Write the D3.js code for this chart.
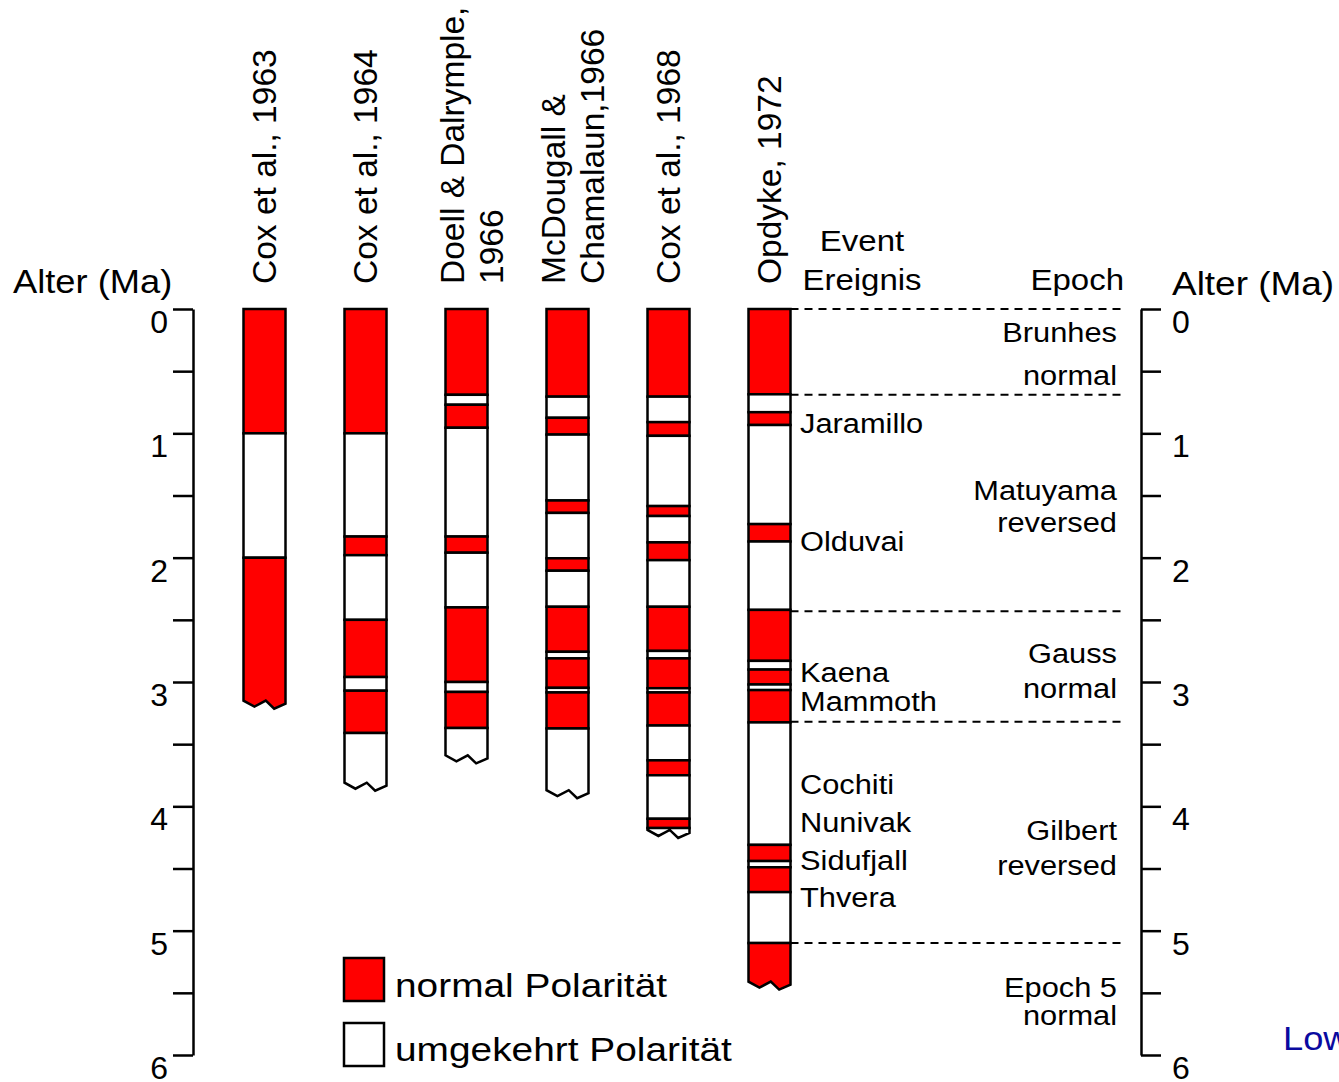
<!DOCTYPE html>
<html>
<head>
<meta charset="utf-8">
<script src="https://cdn.jsdelivr.net/npm/d3@7"></script>
<style>
  html, body { margin: 0; padding: 0; background: #fff; }
  svg { display: block; }
  text { font-family: "Liberation Sans", Arial, Helvetica, sans-serif; }
</style>
</head>
<body>
<svg id="chart" width="1339" height="1082"></svg>
<script>
// Polarity columns: boundaries in Ma, top to bottom.
// Segments alternate normal / reversed, starting with normal at 0 Ma.
const studyLabels = [
  ["Cox et al., 1963"],
  ["Cox et al., 1964"],
  ["Doell & Dalrymple,", "1966"],
  ["McDougall &", "Chamalaun,1966"],
  ["Cox et al., 1968"],
  ["Opdyke, 1972"]
];
const cox1963 = [0, 1.0, 2.0, 3.15];
const cox1964 = [0, 1.0, 1.83, 1.98, 2.50, 2.96, 3.07, 3.41, 3.81];
const doell1966 = [0, 0.69, 0.77, 0.955, 1.83, 1.96, 2.40, 3.00, 3.08, 3.37, 3.59];
const mcdougall1966 = [0, 0.705, 0.875, 1.01, 1.54, 1.64, 2.005, 2.105, 2.395, 2.757, 2.81, 3.047, 3.084, 3.373, 3.87];
const cox1968 = [0, 0.705, 0.91, 1.02, 1.585, 1.665, 1.877, 2.02, 2.395, 2.75, 2.81, 3.05, 3.084, 3.35, 3.63, 3.75, 4.10, 4.175, 4.19];
const opdyke1972 = [0, 0.686, 0.83, 0.933, 1.73, 1.87, 2.42, 2.83, 2.90, 3.02, 3.065, 3.325, 4.31, 4.44, 4.49, 4.69, 5.10, 5.41];
const columns = [cox1963, cox1964, doell1966, mcdougall1966, cox1968, opdyke1972];

// Named subchrons (events) and polarity epochs
const eventNames = ["Jaramillo", "Olduvai", "Kaena", "Mammoth", "Cochiti", "Nunivak", "Sidufjall", "Thvera"];
const epochNames = [["Brunhes", "normal"], ["Matuyama", "reversed"], ["Gauss", "normal"], ["Gilbert", "reversed"], ["Epoch 5", "normal"]];
const epochBounds = [0, 0.69, 2.43, 3.32, 5.1];

const ageTicks = [0, 1, 2, 3, 4, 5, 6];
const legendLabels = ["normal Polarität", "umgekehrt Polarität"];

const RED = "#ff0000";
const svg = d3.select("#chart");
svg.append("rect").attr("width", 1339).attr("height", 1082).attr("fill", "#fff");

const y = d3.scaleLinear().domain([0, 6]).range([309, 1055]);
const x = d3.scalePoint().domain(d3.range(columns.length)).range([264.5, 769.5]);
const colW = 42;

function htext(g, px, py, str, size, anchor, xs) {
  return g.append("text")
    .attr("transform", `translate(${px},${py}) scale(${xs || 1.1},1)`)
    .attr("font-size", size)
    .attr("text-anchor", anchor || "start")
    .style("fill", "#000")
    .text(str);
}

// ---- age axes ----
const minorTicks = d3.range(0, 6.01, 0.5);
function styleAxis(g) {
  g.selectAll("path.domain").attr("stroke", "#000").attr("stroke-width", 2.5);
  g.selectAll(".tick line").attr("stroke", "#000").attr("stroke-width", 2.5);
  g.selectAll(".tick text")
    .attr("font-size", 32)
    .attr("font-family", '"Liberation Sans", Arial, sans-serif')
    .attr("fill", "#000")
    .attr("dy", "0.73em");
}
const fmt = d => Number.isInteger(d) && ageTicks.includes(d) ? String(d) : "";

const leftAxis = svg.append("g").attr("transform", "translate(193,0)")
  .call(d3.axisLeft(y).tickValues(minorTicks).tickFormat(fmt).tickSize(20).tickSizeOuter(0).tickPadding(5));
styleAxis(leftAxis);

const rightAxis = svg.append("g").attr("transform", "translate(1141,0)")
  .call(d3.axisRight(y).tickValues(minorTicks).tickFormat(fmt).tickSize(20).tickSizeOuter(0).tickPadding(11));
styleAxis(rightAxis);

htext(svg, 13, 293, "Alter (Ma)", 33);
htext(svg, 1172, 295, "Alter (Ma)", 33, "start", 1.12);

// ---- epoch boundaries (dashed) ----
const colRight = x(columns.length - 1) + colW / 2;
svg.append("g").selectAll("line").data(epochBounds).join("line")
  .attr("x1", colRight).attr("x2", 1122)
  .attr("y1", d => y(d)).attr("y2", d => y(d))
  .attr("stroke", "#000").attr("stroke-width", 2)
  .attr("stroke-dasharray", "8,6");

// ---- polarity columns ----
columns.forEach((bounds, ci) => {
  const g = svg.append("g");
  const x0 = x(ci) - colW / 2, x1 = x(ci) + colW / 2;
  for (let i = 0; i < bounds.length - 1; i++) {
    const fill = i % 2 === 0 ? RED : "#fff";
    const top = y(bounds[i]), bot = y(bounds[i + 1]);
    if (i === bounds.length - 2) {
      // last segment ends in a broken (zig-zag) edge
      const pts = [
        [x0, top], [x1, top], [x1, bot + 3],
        [x0 + 0.73 * colW, bot + 8], [x0 + 0.53 * colW, bot],
        [x0 + 0.26 * colW, bot + 6], [x0, bot]
      ];
      g.append("path")
        .attr("d", d3.line()(pts) + "Z")
        .attr("fill", fill).attr("stroke", "#000").attr("stroke-width", 2.5)
        .attr("stroke-linejoin", "miter");
    } else {
      g.append("rect")
        .attr("x", x0).attr("y", top)
        .attr("width", colW).attr("height", bot - top)
        .attr("fill", fill).attr("stroke", "#000").attr("stroke-width", 2.5);
    }
  }
});

// ---- column headings (rotated) ----
studyLabels.forEach((lines, ci) => {
  const offs = lines.length === 1 ? [11] : [-3, 36];
  lines.forEach((ln, li) => {
    svg.append("text")
      .attr("transform", `translate(${x(ci) + offs[li]},284) rotate(-90)`)
      .attr("font-size", 33.5)
      .style("fill", "#000")
      .text(ln);
  });
});

// ---- headings for the annotation area ----
htext(svg, 862, 251, "Event", 30, "middle");
htext(svg, 862, 290, "Ereignis", 30, "middle");
htext(svg, 1124, 290, "Epoch", 30, "end");

// event labels, baselines on the age scale
const eventLabelAge = [1.0, 1.95, 3.0, 3.23, 3.9, 4.21, 4.51, 4.81];
eventNames.forEach((n, i) => htext(svg, 800, y(eventLabelAge[i]), n, 28));

// epoch labels, two lines each
const epochLabelAge = [[0.265, 0.61], [1.54, 1.79], [2.85, 3.13], [4.27, 4.55], [5.535, 5.76]];
epochNames.forEach((lines, i) => {
  lines.forEach((ln, li) => htext(svg, 1117, y(epochLabelAge[i][li]), ln, 28, "end"));
});

// ---- legend ----
const legend = svg.append("g");
[RED, "#fff"].forEach((c, i) => {
  legend.append("rect")
    .attr("x", 344).attr("y", 958 + i * 65)
    .attr("width", 40).attr("height", 43)
    .attr("fill", c).attr("stroke", "#000").attr("stroke-width", 2.5);
  htext(legend, 395, 997 + i * 64, legendLabels[i], 33.5, "start", 1.16);
});

// source note at the lower right
htext(svg, 1283, 1050, "Lowrie", 33).style("fill", "#0a0aa0");
</script>
</body>
</html>
